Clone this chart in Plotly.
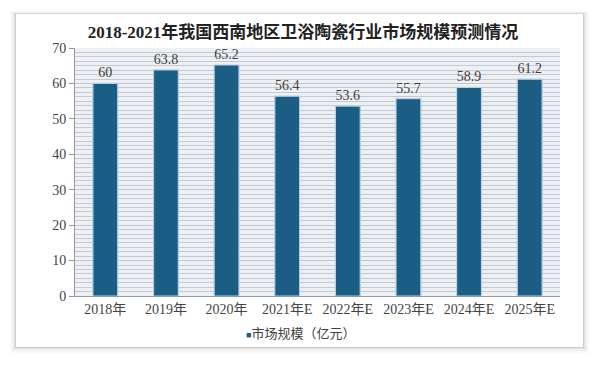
import plotly.graph_objects as go

categories = ["2018年", "2019年", "2020年", "2021年E", "2022年E", "2023年E", "2024年E", "2025年E"]
values = [60, 63.8, 65.2, 56.4, 53.6, 55.7, 58.9, 61.2]
value_labels = ["60", "63.8", "65.2", "56.4", "53.6", "55.7", "58.9", "61.2"]
series_name = "市场规模（亿元）"
title_text = "2018-2021年我国西南地区卫浴陶瓷行业市场规模预测情况"

FONT = "Liberation Serif, Noto Sans CJK SC, serif"
BAR = "#1b5e85"

OFF = 8  # default page body margin
W, H = 600 - OFF, 365 - OFF
ML, MT = 75 - OFF, 48 - OFF
PW, PH = 485, 248
MR, MB = W - ML - PW, H - MT - PH


def px(x):  # page pixel -> paper x
    return (x - OFF - ML) / PW


def py(y):  # page pixel -> paper y
    return (MT + PH - (y - OFF)) / PH


fig = go.Figure()
fig.add_trace(go.Bar(
    x=categories, y=values, name=series_name,
    marker=dict(color=BAR, line=dict(color="#b6d0e3", width=1.2)),
    width=0.41,
    text=value_labels, textposition="outside",
    textfont=dict(family=FONT, size=14, color="#404040"),
    cliponaxis=False, showlegend=False,
))

# card shadow (soft) and card
for i, a in [(6, 0.025), (4, 0.04), (2, 0.06), (1, 0.08)]:
    fig.add_shape(type="rect", xref="paper", yref="paper",
                  x0=px(16 - i), x1=px(583 + i), y0=py(347 + i), y1=py(14 - i * 0.5),
                  line=dict(width=0), fillcolor=f"rgba(0,0,0,{a})", layer="below")
fig.add_shape(type="rect", xref="paper", yref="paper",
              x0=px(16), x1=px(583), y0=py(347), y1=py(14),
              line=dict(width=0), fillcolor="white", layer="below")
# plot area fill
fig.add_shape(type="rect", xref="paper", yref="paper", x0=0, x1=1, y0=0, y1=1,
              line=dict(width=0), fillcolor="#edf1f6", layer="below")

# legend-like label
fig.add_annotation(xref="paper", yref="paper", x=px(300), y=py(333),
                   xanchor="center", yanchor="middle", showarrow=False,
                   text=f"<span style='color:{BAR};font-size:9px'>■</span>" + series_name,
                   font=dict(family=FONT, size=13, color="#404040"))

fig.update_layout(
    width=W, height=H,
    margin=dict(l=ML, r=MR, t=MT, b=MB),
    paper_bgcolor="white",
    plot_bgcolor="rgba(0,0,0,0)",
    title=dict(text="<b>" + title_text + "</b>", x=px(303), xanchor="center",
               xref="paper", y=1 - (32 - OFF) / H, yanchor="middle",
               font=dict(family=FONT, size=17, color="#222222")),
    showlegend=False,
    font=dict(family=FONT, color="#404040"),
)
fig.update_yaxes(range=[0, 70], dtick=10, showgrid=True, gridcolor="#c2c6cc", gridwidth=1,
                 minor=dict(dtick=1.25, showgrid=True, gridcolor="#c6cad0", gridwidth=1),
                 showline=True, linecolor="#999999", ticks="outside", ticklen=5, tickcolor="#999999",
                 tickfont=dict(family=FONT, size=14, color="#444444"), zeroline=False)
fig.update_xaxes(showline=True, linecolor="#999999", ticks="",
                 tickfont=dict(family=FONT, size=14, color="#444444"))

fig.write_html("out.html")
